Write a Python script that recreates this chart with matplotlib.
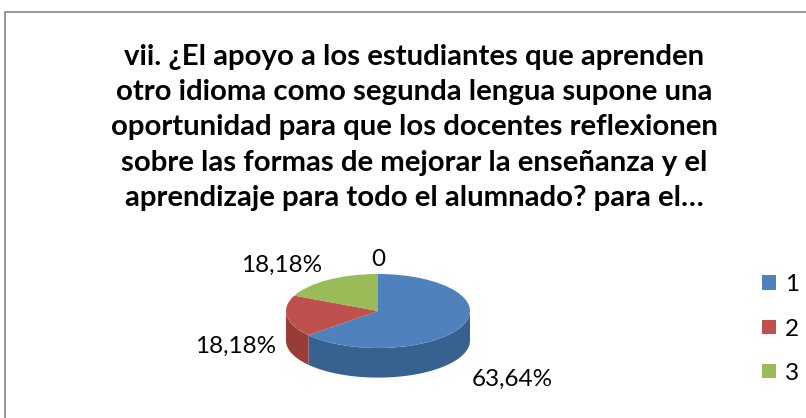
import numpy as np
import matplotlib
matplotlib.use("Agg")
import matplotlib.pyplot as plt
from matplotlib.patches import Polygon, Patch, Rectangle

# data
categories = ["1", "2", "3"]
values = [63.64, 18.18, 18.18]
pct_labels = ["63,64%", "18,18%", "18,18%"]
zero_label = "0"
title = ("vii. ¿El apoyo a los estudiantes que aprenden\n"
         "otro idioma como segunda lengua supone una\n"
         "oportunidad para que los docentes reflexionen\n"
         "sobre las formas de mejorar la enseñanza y el\n"
         "aprendizaje para todo el alumnado? para el…")

colors = ["#4F81BD", "#C0504D", "#9BBB59", "#FFFFFF"]
side_colors = ["#37618F", "#973C39", "#7A9446", "#FFFFFF"]

plt.rcParams["font.family"] = ["Lato", "DejaVu Sans"]

W, H = 806, 418
fig = plt.figure(figsize=(W / 100, H / 100), dpi=100)

# chart frame (only left/top visible, cropped screenshot)
fig.patches.append(Rectangle((5 / W, -0.1), 1.2, (H - 12) / H + 0.1,
                             transform=fig.transFigure, fill=False,
                             edgecolor="#868686", lw=1.2))

fig.text(414 / W, 1 - 44 / H, title, ha="center", va="top",
         fontsize=21.2, fontweight="bold", linespacing=1.44)

# pie geometry in pixels
cx, cy = 378, 311          # centre (from top)
rx, ry = 92, 37            # px per data unit in x and y
depth = 0.8                # side height in y data units
left, right, top, bottom = 190, 566, 235, 416
ax = fig.add_axes([left / W, 1 - bottom / H, (right - left) / W, (bottom - top) / H])

wedges, _ = ax.pie(values + [0], colors=colors, startangle=90, counterclock=False,
                   wedgeprops=dict(edgecolor="none", zorder=3))
ax.set_aspect("auto")
ax.set_xlim((left - cx) / rx, (right - cx) / rx)
ax.set_ylim((cy - bottom) / ry, (cy - top) / ry)
ax.axis("off")

# side walls for the front half of the disk
for w, sc in zip(wedges, side_colors):
    t1, t2 = w.theta1, w.theta2
    for shift in (-360, 0, 360):
        a = max(t1, -180 + shift)
        b = min(t2, 0 + shift)
        if b > a:
            t = np.radians(np.linspace(a, b, 100))
            xs = np.cos(t)
            ys = np.sin(t)
            pts = np.concatenate([np.c_[xs, ys], np.c_[xs[::-1], ys[::-1] - depth]])
            ax.add_patch(Polygon(pts, closed=True, facecolor=sc, edgecolor="none", zorder=2))

# data labels
r = 1.12
for w, lab in zip(wedges, pct_labels + [zero_label]):
    mid = np.radians((w.theta1 + w.theta2) / 2)
    c, s = np.cos(mid), np.sin(mid)
    x, y = r * c, r * s
    ha = "left" if c > 0.1 else ("right" if c < -0.1 else "center")
    if s < -0.3:
        va = "top"
        y -= depth + 0.3
    elif s < -0.05:
        va = "center"
        y -= depth
    else:
        va = "bottom"
    ax.text(x, y, lab, ha=ha, va=va, fontsize=17.5, zorder=5)

handles = [Patch(facecolor=c, edgecolor="none") for c in colors[:3]]
fig.legend(handles, categories, loc="center left", bbox_to_anchor=(750 / W, 1 - 329 / H),
           frameon=False, fontsize=17.5, handlelength=0.55, handleheight=0.55,
           handletextpad=0.4, labelspacing=0.95, borderpad=0)

fig.savefig("out.png", dpi=100)
